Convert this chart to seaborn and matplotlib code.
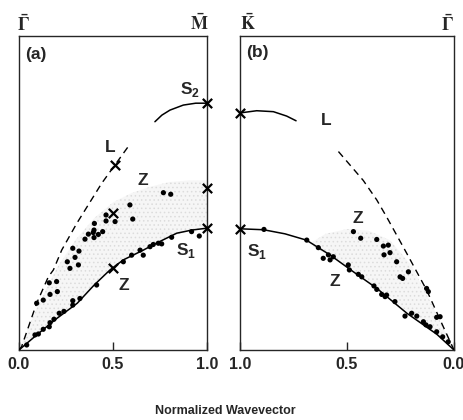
import numpy as np
import pandas as pd
import seaborn as sns
import matplotlib.pyplot as plt

# ---- panel (a): Gamma -> M ----
s1_a_x = [0.0, 0.094, 0.2, 0.31, 0.4, 0.484, 0.555, 0.661, 0.73, 0.839, 0.92, 1.0]
s1_a_y = [0.0, 0.048, 0.1, 0.149, 0.207, 0.255, 0.287, 0.318, 0.34, 0.372, 0.382, 0.388]
l_a_x = [0.0, 0.014, 0.094, 0.156, 0.183, 0.227, 0.307, 0.44, 0.51, 0.58]
l_a_y = [0.0, 0.011, 0.149, 0.233, 0.255, 0.318, 0.403, 0.531, 0.589, 0.647]
s2_a_x = [0.723, 0.76, 0.803, 0.874, 0.94, 1.0]
s2_a_y = [0.727, 0.748, 0.764, 0.78, 0.786, 0.786]
band_a_x = [0.0, 0.1, 0.2, 0.3, 0.4, 0.5, 0.6, 0.7, 0.8, 0.9, 1.0]
band_a_lo = [0.0, 0.05, 0.1, 0.145, 0.207, 0.26, 0.3, 0.33, 0.36, 0.378, 0.388]
band_a_hi = [0.0, 0.14, 0.26, 0.35, 0.42, 0.47, 0.5, 0.52, 0.535, 0.54, 0.54]

lower_a_x = [0.041, 0.085, 0.103, 0.129, 0.161, 0.165, 0.186, 0.214, 0.239, 0.286, 0.286,
             0.324, 0.413, 0.555, 0.599, 0.644, 0.661, 0.697, 0.714, 0.741, 0.759, 0.812,
             0.918, 0.959]
lower_a_y = [0.016, 0.048, 0.051, 0.066, 0.074, 0.087, 0.098, 0.117, 0.123, 0.143, 0.157,
             0.164, 0.207, 0.281, 0.302, 0.318, 0.302, 0.329, 0.336, 0.34, 0.338, 0.359,
             0.377, 0.363]
upper_a_x = [0.094, 0.129, 0.165, 0.204, 0.161, 0.2, 0.257, 0.271, 0.316, 0.298, 0.286,
             0.319, 0.351, 0.369, 0.395, 0.399, 0.422, 0.445, 0.399, 0.401, 0.463, 0.463,
             0.511, 0.59, 0.605, 0.768, 0.807]
upper_a_y = [0.149, 0.159, 0.177, 0.186, 0.214, 0.218, 0.281, 0.26, 0.271, 0.295, 0.324,
             0.315, 0.353, 0.369, 0.374, 0.358, 0.368, 0.377, 0.382, 0.403, 0.411, 0.43,
             0.409, 0.462, 0.417, 0.501, 0.496]
cross_a_x = [1.0, 1.0, 1.0, 0.51, 0.5, 0.5]
cross_a_y = [0.786, 0.515, 0.388, 0.589, 0.435, 0.26]

# ---- panel (b): K -> Gamma ----
s1_b_x = [1.0, 0.89, 0.79, 0.69, 0.58, 0.525, 0.47, 0.36, 0.22, 0.08, 0.0]
s1_b_y = [0.386, 0.383, 0.37, 0.35, 0.303, 0.276, 0.249, 0.196, 0.117, 0.05, 0.0]
l_b_x = [0.54, 0.424, 0.361, 0.315, 0.221, 0.128, 0.05, 0.0]
l_b_y = [0.632, 0.54, 0.478, 0.424, 0.308, 0.191, 0.074, 0.0]
s2_b_x = [1.0, 0.922, 0.844, 0.782, 0.738]
s2_b_y = [0.755, 0.762, 0.759, 0.745, 0.73]
band_b_x = [0.66, 0.6, 0.5, 0.4, 0.3, 0.2, 0.1, 0.0]
band_b_lo = [0.33, 0.305, 0.265, 0.22, 0.17, 0.11, 0.06, 0.0]
band_b_hi = [0.345, 0.37, 0.385, 0.38, 0.35, 0.27, 0.14, 0.0]

lower_b_x = [0.888, 0.688, 0.634, 0.611, 0.587, 0.579, 0.564, 0.494, 0.489, 0.447, 0.431,
             0.374, 0.361, 0.338, 0.322, 0.315, 0.276, 0.229, 0.198, 0.174, 0.143, 0.131,
             0.112, 0.081, 0.053, 0.027]
lower_b_y = [0.384, 0.35, 0.326, 0.292, 0.303, 0.287, 0.297, 0.271, 0.255, 0.241, 0.233,
             0.204, 0.193, 0.177, 0.17, 0.175, 0.154, 0.108, 0.117, 0.108, 0.09, 0.08,
             0.074, 0.058, 0.042, 0.026]
upper_b_x = [0.47, 0.436, 0.361, 0.33, 0.307, 0.299, 0.327, 0.268, 0.213, 0.252, 0.24,
             0.128, 0.12, 0.081, 0.065]
upper_b_y = [0.377, 0.356, 0.352, 0.331, 0.334, 0.31, 0.303, 0.281, 0.249, 0.233, 0.228,
             0.196, 0.186, 0.104, 0.106]
cross_b_x = [1.0, 1.0]
cross_b_y = [0.755, 0.386]

sns.set_style("ticks")
plt.rcParams['font.family'] = ['Liberation Sans', 'DejaVu Sans']
plt.rcParams['font.weight'] = 'bold'
plt.rcParams['mathtext.fontset'] = 'custom'
plt.rcParams['mathtext.rm'] = 'Liberation Sans'
plt.rcParams['mathtext.bf'] = 'Liberation Sans:bold'
plt.rcParams['hatch.linewidth'] = 0.6

fig = plt.figure(figsize=(4.64, 4.2), dpi=100)
ax_a = fig.add_axes([19 / 464, 70 / 420, 188 / 464, 314 / 420])
ax_b = fig.add_axes([240 / 464, 70 / 420, 214 / 464, 314 / 420])


def draw(ax, band, s1, lx, s2, lower, upper, cross):
    ax.fill_between(band[0], band[1], band[2], facecolor='#f6f6f6', edgecolor='#dcdcdc',
                    hatch='....', lw=0, zorder=1)
    sns.lineplot(x=s1[0], y=s1[1], ax=ax, color='k', lw=1.1, sort=False, estimator=None, zorder=3)
    sns.lineplot(x=lx[0], y=lx[1], ax=ax, color='k', lw=1.0, sort=False, estimator=None,
                 linestyle=(0, (5, 3.5)), zorder=3)
    sns.lineplot(x=s2[0], y=s2[1], ax=ax, color='k', lw=1.1, sort=False, estimator=None, zorder=3)
    pts = pd.DataFrame({'x': lower[0] + upper[0], 'y': lower[1] + upper[1]})
    sns.scatterplot(data=pts, x='x', y='y', ax=ax, color='k', s=14, edgecolor='none', zorder=4)
    ax.scatter(cross[0], cross[1], marker='x', s=45, color='k', linewidths=1.6, zorder=5,
               clip_on=False)
    ax.set_ylim(0, 1)
    ax.set_yticks([])
    ax.set_xlabel('')
    ax.set_ylabel('')
    for sp in ax.spines.values():
        sp.set_linewidth(1.0)
        sp.set_visible(True)
    ax.tick_params(axis='x', direction='in', length=6, width=1, pad=5, labelsize=11.5)


draw(ax_a, (band_a_x, band_a_lo, band_a_hi), (s1_a_x, s1_a_y), (l_a_x, l_a_y),
     (s2_a_x, s2_a_y), (lower_a_x, lower_a_y), (upper_a_x, upper_a_y), (cross_a_x, cross_a_y))
draw(ax_b, (band_b_x, band_b_lo, band_b_hi), (s1_b_x, s1_b_y), (l_b_x, l_b_y),
     (s2_b_x, s2_b_y), (lower_b_x, lower_b_y), (upper_b_x, upper_b_y), (cross_b_x, cross_b_y))

ax_a.set_xlim(0, 1)
ax_a.set_xticks([0.0, 0.5, 1.0], ['0.0', '0.5', '1.0'])
ax_b.set_xlim(1, 0)
ax_b.set_xticks([1.0, 0.5, 0.0], ['1.0', '0.5', '0.0'])

lab = dict(fontsize=12.5, fontweight='bold', ha='center', va='center')
ax_a.text(0.03, 0.94, '(a)', transform=ax_a.transAxes, ha='left', va='center',
          fontsize=12.5, fontweight='bold')
ax_a.text(0.91, 0.83, 'S$_2$', **lab)
ax_a.text(0.484, 0.646, 'L', **lab)
ax_a.text(0.66, 0.54, 'Z', **lab)
ax_a.text(0.89, 0.318, 'S$_1$', **lab)
ax_a.text(0.555, 0.207, 'Z', **lab)

ax_b.text(0.03, 0.946, '(b)', transform=ax_b.transAxes, ha='left', va='center',
          fontsize=12.5, fontweight='bold')
ax_b.text(0.595, 0.732, 'L', **lab)
ax_b.text(0.449, 0.42, 'Z', **lab)
ax_b.text(0.556, 0.218, 'Z', **lab)
ax_b.text(0.922, 0.313, 'S$_1$', **lab)

top = dict(fontsize=13, va='center', math_fontfamily='stix')
ax_a.text(-0.01, 1.035, r'$\mathbf{\bar{\Gamma}}$', transform=ax_a.get_xaxis_transform(),
          ha='left', **top)
ax_a.text(1.01, 1.04, r'$\mathbf{\bar{M}}$', transform=ax_a.get_xaxis_transform(),
          ha='right', **top)
ax_b.text(1.0, 1.04, r'$\mathbf{\bar{K}}$', transform=ax_b.get_xaxis_transform(),
          ha='left', **top)
ax_b.text(0.0, 1.035, r'$\mathbf{\bar{\Gamma}}$', transform=ax_b.get_xaxis_transform(),
          ha='right', **top)

fig.text(225 / 464, 1 - 411 / 420, 'Normalized Wavevector', ha='center', va='center',
         fontsize=9, fontweight='bold')

fig.savefig('out.png', dpi=100)
